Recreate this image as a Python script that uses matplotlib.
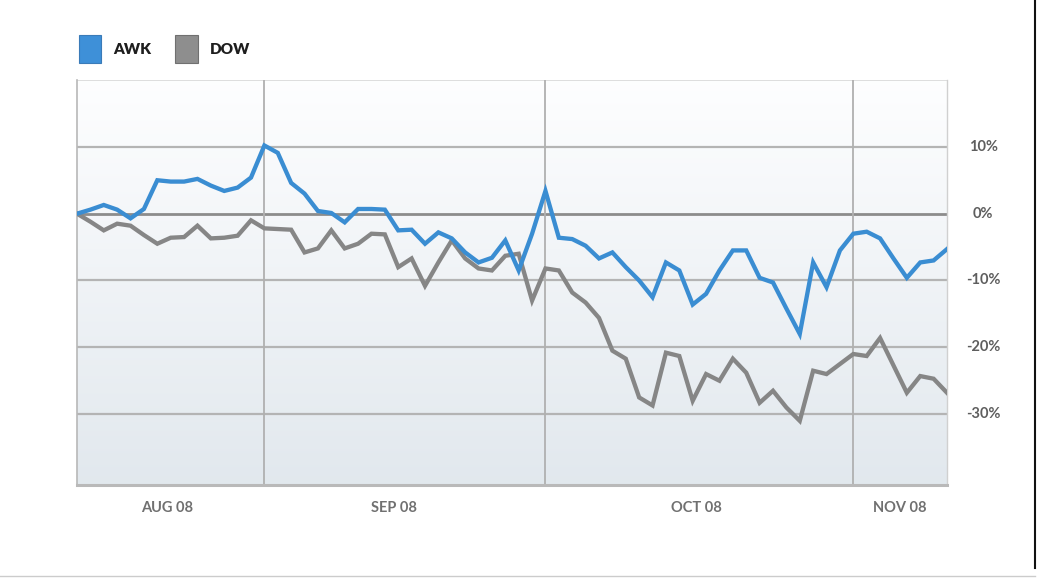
import matplotlib
matplotlib.use("Agg")
import matplotlib.pyplot as plt
import matplotlib.transforms as mtransforms
from matplotlib.patches import Rectangle
import numpy as np

# percent change since start, one value per trading day
awk = [0, 0.6, 1.3, 0.6, -0.7, 0.7, 5.0, 4.8, 4.8, 5.2,
       4.2, 3.4, 3.9, 5.4, 10.2, 9.1, 4.6, 3.0, 0.4, 0.1,
       -1.3, 0.7, 0.7, 0.6, -2.5, -2.4, -4.5, -2.8, -3.7, -5.8,
       -7.3, -6.6, -4.0, -8.5, -3.0, 3.4, -3.6, -3.8, -4.8, -6.7,
       -5.8, -8.0, -10.0, -12.5, -7.3, -8.5, -13.6, -12.0, -8.5, -5.5,
       -5.5, -9.6, -10.3, -14.2, -18.0, -7.3, -11.0, -5.5, -3.0, -2.7,
       -3.7, -6.7, -9.6, -7.3, -7.0, -5.3]
dow = [0, -1.2, -2.5, -1.5, -1.8, -3.2, -4.5, -3.6, -3.5, -1.8,
       -3.7, -3.6, -3.3, -1.0, -2.2, -2.3, -2.4, -5.8, -5.2, -2.5,
       -5.2, -4.5, -3.0, -3.1, -8.0, -6.7, -10.8, -7.3, -4.0, -6.7,
       -8.2, -8.5, -6.3, -6.0, -13.0, -8.2, -8.5, -11.8, -13.3, -15.6,
       -20.5, -21.7, -27.5, -28.7, -20.8, -21.3, -28.0, -24.0, -25.0, -21.7,
       -23.8, -28.3, -26.5, -29.0, -31.0, -23.5, -24.0, -22.5, -21.0, -21.3,
       -18.6, -22.7, -26.8, -24.3, -24.7, -26.8]

month_labels = ["AUG 08", "SEP 08", "OCT 08", "NOV 08"]
month_starts = [14, 35, 58]          # first trading day of Sep, Oct, Nov
label_pos = [6.7, 23.7, 46.3, 61.5]
yticks = [10, 0, -10, -20, -30]

AWK_C = "#3a8dd2"
DOW_C = "#868686"
TXT_C = "#5e5e5e"
FONT = "Lato"

fig = plt.figure(figsize=(10.4, 5.78), dpi=100)
ax = fig.add_axes([77 / 1040, 1 - 485 / 578, 870 / 1040, 405 / 578])

x = np.arange(len(awk))
ax.set_xlim(0, len(awk) - 1)
ax.set_ylim(-40.6, 20)

# background gradient, white at top to pale blue-grey at bottom
grad = np.linspace(0, 1, 256).reshape(-1, 1)
top = np.array([0.995, 0.997, 1.0])
bot = np.array([0.885, 0.91, 0.932])
img = top + (bot - top) * grad[..., None]
ax.imshow(img, extent=[0, len(awk) - 1, -40.6, 20], aspect="auto",
          origin="upper", zorder=0)

for v in yticks:
    ax.axhline(v, color="#8c8c8c" if v == 0 else "#b4b4b4",
               lw=2 if v == 0 else 1.6, zorder=1)
ax.axhline(20, color="#d8d8d8", lw=1.2, zorder=1)
for m in month_starts:
    ax.axvline(m, color="#b0b0b0", lw=1.3, zorder=1)

ax.plot(x, dow, color=DOW_C, lw=3.1, zorder=3, solid_joinstyle="miter")
ax.plot(x, awk, color=AWK_C, lw=3.1, zorder=4, solid_joinstyle="miter")

ax.spines["top"].set_visible(False)
ax.spines["right"].set_color("#d0d0d0")
ax.spines["right"].set_linewidth(1.0)
ax.spines["left"].set_color("#b8b8b8")
ax.spines["left"].set_linewidth(1.2)
ax.spines["bottom"].set_color("#b9b9b9")
ax.spines["bottom"].set_linewidth(2.2)
ax.set_xticks([])
ax.set_yticks([])

tr = mtransforms.blended_transform_factory(ax.transAxes, ax.transData)
for v in yticks:
    ax.text(1.0414, v, f"{v}%", transform=tr, ha="center", va="center",
            fontsize=10.5, color=TXT_C, family=FONT, fontweight="bold")

tr2 = mtransforms.blended_transform_factory(ax.transData, ax.transAxes)
for p, lab in zip(label_pos, month_labels):
    ax.text(p, -0.057, lab, transform=tr2, ha="center", va="center",
            fontsize=10.5, color="#707070", family=FONT, fontweight="bold")

# legend
fig.patches.append(Rectangle((79 / 1040, 1 - 63 / 578), 22 / 1040, 28 / 578,
                             transform=fig.transFigure, facecolor="#3e90d8",
                             edgecolor="#3a7bb8", lw=0.8))
fig.text(113 / 1040, 1 - 49 / 578, "AWK", fontsize=11, color="#1e1e1e",
         family=FONT, fontweight="heavy", va="center")
fig.patches.append(Rectangle((175 / 1040, 1 - 63 / 578), 23 / 1040, 28 / 578,
                             transform=fig.transFigure, facecolor="#8e8e8e",
                             edgecolor="#707070", lw=0.8))
fig.text(210 / 1040, 1 - 49 / 578, "DOW", fontsize=11, color="#1e1e1e",
         family=FONT, fontweight="heavy", va="center")

# outer frame lines of the screenshot
fig.add_artist(plt.Line2D([1035 / 1040, 1035 / 1040], [1 - 568 / 578, 1.0],
                          transform=fig.transFigure, color="#111111", lw=1.5))
fig.add_artist(plt.Line2D([0, 1035 / 1040], [1 - 576 / 578, 1 - 576 / 578],
                          transform=fig.transFigure, color="#cccccc", lw=1.0))

fig.savefig("out.png", dpi=100)
